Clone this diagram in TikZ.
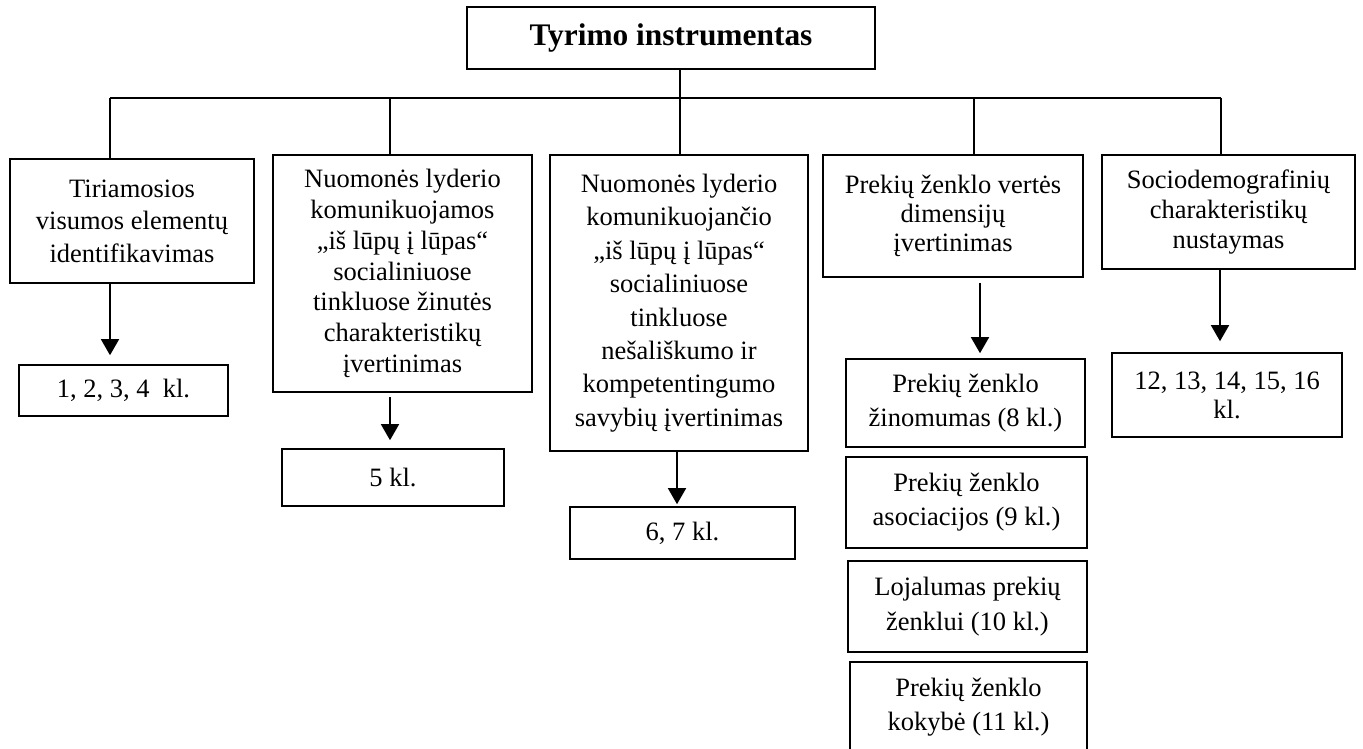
\documentclass[tikz,border=0pt]{standalone}
\usepackage{fontspec}
\setmainfont{Liberation Serif}
\usetikzlibrary{arrows.meta}
\begin{document}
\begin{tikzpicture}[x=1pt,y=-1pt,
  box/.style={draw, line width=1.6pt, inner sep=0pt, align=center, rectangle},
  txt/.style={font={\fontsize{26.5}{#1}\selectfont}},
  conn/.style={line width=1.6pt},
  arr/.style={line width=1.6pt, -{Triangle[width=18pt,length=16pt]}}]
\useasboundingbox (0,0) rectangle (1363,749);
\clip (0,0) rectangle (1363,749);
% title
\node[box, minimum width=408pt, minimum height=62pt, font={\fontsize{31.4}{36}\selectfont\bfseries}] (tt) at (671,38) {Tyrimo instrumentas};
% second level
\node[box, txt=32.5, minimum width=244pt, minimum height=124pt] (b1) at (132,221) {Tiriamosios\\visumos elementų\\identifikavimas};
\node[box, txt=30.7, minimum width=259pt, minimum height=237pt] (b2) at (402.5,273.5) {Nuomonės lyderio\\komunikuojamos\\„iš lūpų į lūpas“\\socialiniuose\\tinkluose žinutės\\charakteristikų\\įvertinimas};
\node[box, txt=33.4, minimum width=258pt, minimum height=296pt] (b3) at (679,303) {Nuomonės lyderio\\komunikuojančio\\„iš lūpų į lūpas“\\socialiniuose\\tinkluose\\nešališkumo ir\\kompetentingumo\\savybių įvertinimas};
\node[box, txt=29, minimum width=260pt, minimum height=122pt] (b4) at (953,216) {Prekių ženklo vertės\\dimensijų\\įvertinimas};
\node[box, txt=30, minimum width=253pt, minimum height=114pt] (b5) at (1228.5,212) {Sociodemografinių\\charakteristikų\\nustaymas};
% third level
\node[box, txt=30, minimum width=209pt, minimum height=51pt] (a1) at (123.5,390.5) {1, 2, 3, 4~~kl.};
\node[box, txt=30, minimum width=222pt, minimum height=57pt] (a2) at (393,477.5) {5 kl.};
\node[box, txt=30, minimum width=225pt, minimum height=52pt] (a3) at (682.5,533) {6, 7 kl.};
\node[box, txt=34, minimum width=239pt, minimum height=88pt] (c1) at (965.5,403) {Prekių ženklo\\žinomumas (8 kl.)};
\node[box, txt=34, minimum width=241pt, minimum height=91pt] (c2) at (966.5,502.5) {Prekių ženklo\\asociacijos (9 kl.)};
\node[box, txt=35, minimum width=239pt, minimum height=91pt] (c3) at (967.5,606.5) {Lojalumas prekių\\ženklui (10 kl.)};
\node[box, txt=34, minimum width=237pt, minimum height=91pt] (c4) at (968.5,707.5) {Prekių ženklo\\kokybė (11 kl.)};
\node[box, txt=29, minimum width=230pt, minimum height=84pt] (d1) at (1227,395) {12, 13, 14, 15, 16\\kl.};
% bus
\coordinate (bus1) at (110,98);
\coordinate (bus2) at (390,98);
\coordinate (bus3) at (680,98);
\coordinate (bus4) at (974,98);
\coordinate (bus5) at (1221,98);
\draw[conn] (bus1) -- (bus5);
\draw[conn] (tt.south -| bus3) -- (b3.north -| bus3);
\draw[conn] (bus1) -- (b1.north -| bus1);
\draw[conn] (bus2) -- (b2.north -| bus2);
\draw[conn] (bus4) -- (b4.north -| bus4);
\draw[conn] (bus5) -- (b5.north -| bus5);
% arrows
\coordinate (ar1) at (110,0);
\coordinate (ar2) at (390,0);
\coordinate (ar3) at (677,0);
\coordinate (ar4) at (980,0);
\coordinate (ar5) at (1220,0);
\draw[arr, shorten >=9pt] (b1.south -| ar1) -- (a1.north -| ar1);
\draw[arr, shorten <=4pt, shorten >=8pt] (b2.south -| ar2) -- (a2.north -| ar2);
\draw[arr, shorten >=2pt] (b3.south -| ar3) -- (a3.north -| ar3);
\draw[arr, shorten <=5pt, shorten >=5pt] (b4.south -| ar4) -- (c1.north -| ar4);
\draw[arr, shorten >=11pt] (b5.south -| ar5) -- (d1.north -| ar5);
\end{tikzpicture}
\end{document}
